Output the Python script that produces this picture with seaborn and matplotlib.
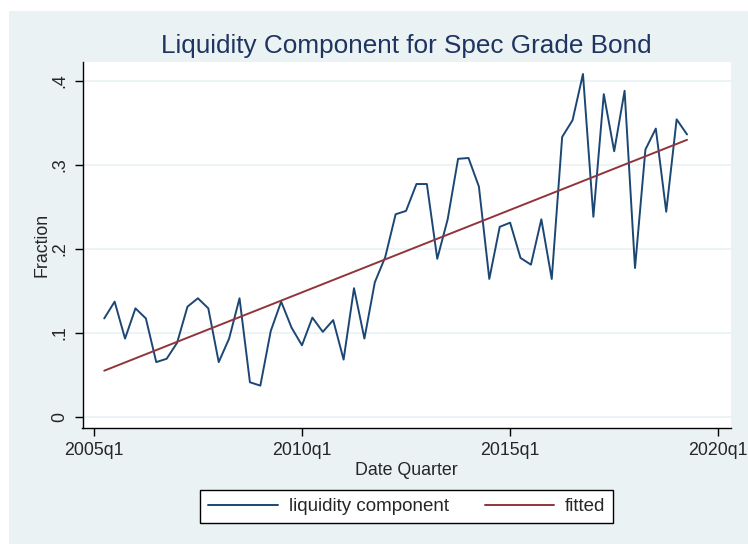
import matplotlib
matplotlib.use("Agg")
import matplotlib.pyplot as plt
from matplotlib.patches import Rectangle
import numpy as np
import pandas as pd
import seaborn as sns

# quarterly liquidity component, 2005q2 - 2019q2
start_quarter = "2005Q2"
end_quarter = "2019Q2"
liquidity = [
    0.117, 0.137, 0.093, 0.129, 0.117, 0.065, 0.069, 0.088, 0.131, 0.141,
    0.129, 0.065, 0.093, 0.141, 0.041, 0.037, 0.102, 0.137, 0.106, 0.085,
    0.118, 0.101, 0.115, 0.068, 0.153, 0.093, 0.160, 0.190, 0.241, 0.245,
    0.277, 0.277, 0.188, 0.235, 0.307, 0.308, 0.274, 0.164, 0.226, 0.231,
    0.189, 0.181, 0.235, 0.164, 0.333, 0.353, 0.408, 0.238, 0.384, 0.316,
    0.388, 0.177, 0.318, 0.343, 0.244, 0.354, 0.336,
]
x_ticks = [2005, 2010, 2015, 2020]
x_tick_labels = ["2005q1", "2010q1", "2015q1", "2020q1"]
y_ticks = [0, 0.1, 0.2, 0.3, 0.4]
y_tick_labels = ["0", ".1", ".2", ".3", ".4"]

periods = pd.period_range(start_quarter, end_quarter, freq="Q")
df = pd.DataFrame({
    "quarter": periods.year + (periods.quarter - 1) / 4,
    "liquidity": liquidity,
})

bg = "#EAF2F3"
navy = "#1C4775"
title_navy = "#1E3461"
maroon = "#90353B"

sns.set_theme(style="white")
plt.rcParams["font.family"] = ["Liberation Sans", "DejaVu Sans"]

fig = plt.figure(figsize=(7.48, 5.44), dpi=100, facecolor="white")
# Stata-style light background (screenshot leaves a thin white margin top/left)
fig.patches.append(Rectangle((9 / 748, 0), 1, (544 - 11) / 544, transform=fig.transFigure,
                             facecolor=bg, edgecolor="none", zorder=-10))

ax = fig.add_axes([82.5 / 748, 1 - 428.3 / 544, 648.5 / 748, 366 / 544])
ax.set_facecolor("white")

sns.lineplot(data=df, x="quarter", y="liquidity", ax=ax, color=navy,
             linewidth=1.4, label="liquidity component")
sns.regplot(data=df, x="quarter", y="liquidity", ax=ax, scatter=False, ci=None,
            color=maroon, line_kws={"linewidth": 1.4}, label="fitted")

ax.set_xlim(2004.728, 2020.306)
ax.set_ylim(-0.0138, 0.4219)
ax.set_xticks(x_ticks)
ax.set_xticklabels(x_tick_labels)
ax.set_yticks(y_ticks)
ax.set_yticklabels(y_tick_labels, rotation=90, va="center")
ax.yaxis.grid(True, color=bg, linewidth=1.2)
ax.xaxis.grid(False)

ax.tick_params(axis="both", direction="out", length=6, width=1, color="black",
               labelsize=12.8, bottom=True, left=True, pad=4)
for side in ["top", "right"]:
    ax.spines[side].set_visible(False)
for side in ["left", "bottom"]:
    ax.spines[side].set_color("black")
    ax.spines[side].set_linewidth(1)

ax.set_xlabel("Date Quarter", fontsize=12.8, labelpad=2)
ax.set_ylabel("Fraction", fontsize=12.8, labelpad=1)
fig.suptitle("Liquidity Component for Spec Grade Bond", x=0.5435, y=0.938,
             fontsize=18.8, color=title_navy)

if ax.legend_:
    ax.legend_.remove()
handles, labels = ax.get_legend_handles_labels()
fig.legend(handles, labels, loc="center", bbox_to_anchor=(0.544, 0.0686), ncol=2,
           frameon=True, fancybox=False, edgecolor="black", facecolor="white",
           fontsize=13.5, handlelength=3.7, handletextpad=0.6, columnspacing=1.9,
           borderpad=0.42, framealpha=1)

fig.savefig("out.png", dpi=100, facecolor="white")
